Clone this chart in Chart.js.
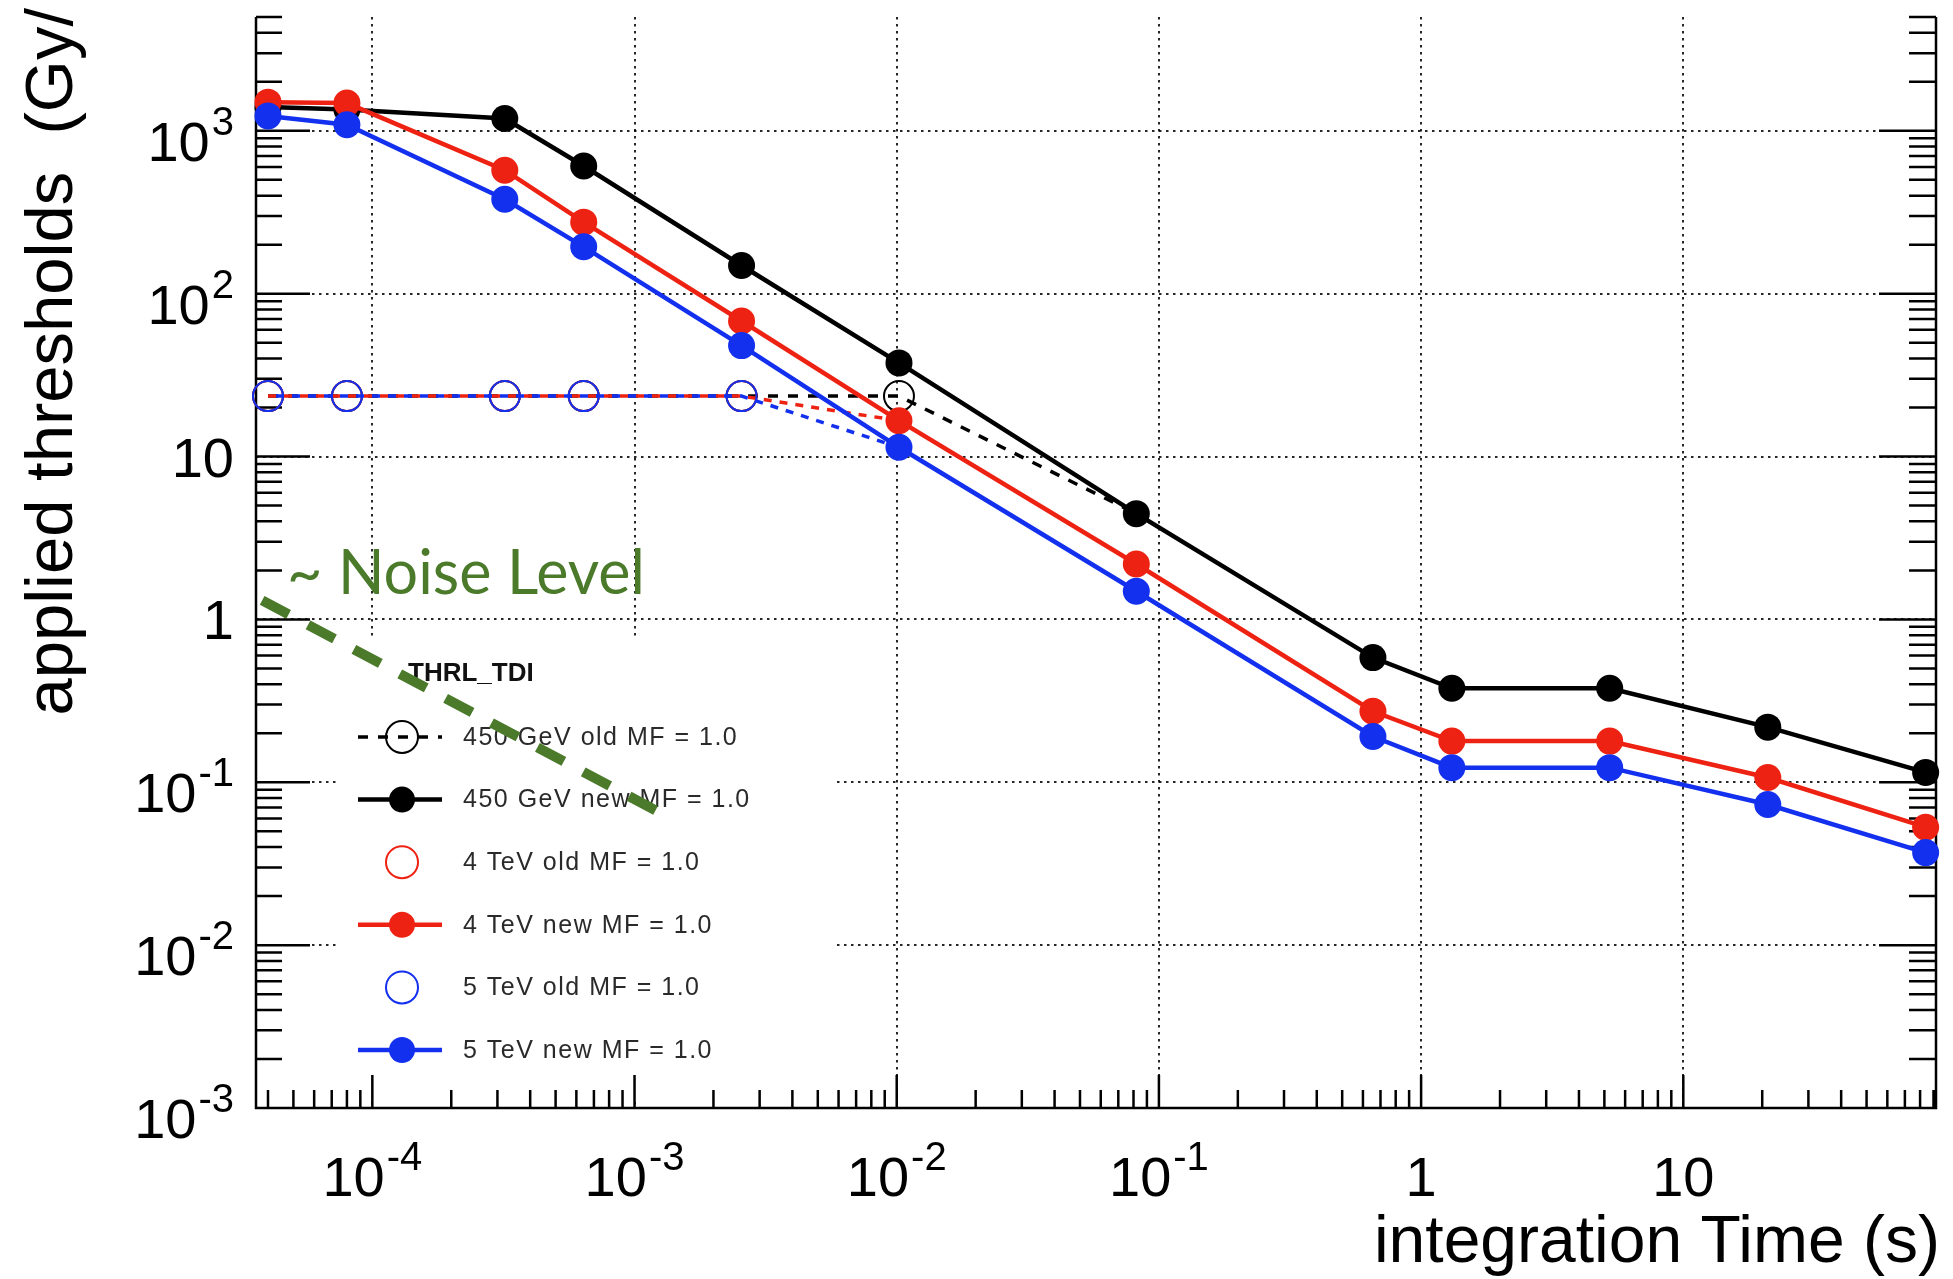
<!DOCTYPE html>
<html>
<head>
<meta charset="utf-8">
<title>THRL_TDI applied thresholds</title>
<script src="https://cdn.jsdelivr.net/npm/chart.js@4.4.1/dist/chart.umd.min.js"></script>
<style>
  html, body { margin: 0; padding: 0; background: #fff; }
  #thrlChart { display: block; }
</style>
</head>
<body>
<canvas id="thrlChart" width="1953" height="1279"></canvas>
<script>
// integration times of the running sums (s)
const times = [4e-5, 8e-5, 3.2e-4, 6.4e-4, 2.56e-3, 1.02e-2, 8.2e-2, 0.655, 1.31, 5.24, 21, 84];

const gev450New = [1400, 1350, 1190, 608, 149, 37.6, 4.46, 0.583, 0.378, 0.378, 0.218, 0.115];
const tev4New = [1500, 1480, 573, 275, 68, 16.6, 2.19, 0.273, 0.179, 0.179, 0.107, 0.053];
const tev5New = [1235, 1090, 380, 194, 48, 11.4, 1.49, 0.191, 0.123, 0.123, 0.073, 0.037];

// old thresholds, only where they differ from the new ones
const gev450Old = [23.5, 23.5, 23.5, 23.5, 23.5, 23.5, 4.46];
const tev4Old = [23.5, 23.5, 23.5, 23.5, 23.5, 16.6];
const tev5Old = [23.5, 23.5, 23.5, 23.5, 23.5, 11.4];

const noiseTimes = [3.8e-5, 1.25e-3];
const noiseValues = [1.31, 0.065];

const xTicks = [1e-4, 1e-3, 1e-2, 1e-1, 1, 10];
const xTickLabels = ['10^-4', '10^-3', '10^-2', '10^-1', '1', '10'];
const yTicks = [1e-3, 1e-2, 1e-1, 1, 10, 1e2, 1e3];
const yTickLabels = ['10^-3', '10^-2', '10^-1', '1', '10', '10^2', '10^3'];

const legendTitle = 'THRL_TDI';
const seriesNames = ['450 GeV old MF = 1.0', '450 GeV new MF = 1.0', '4 TeV old MF = 1.0',
  '4 TeV new MF = 1.0', '5 TeV old MF = 1.0', '5 TeV new MF = 1.0'];

const RED = 'rgb(238, 34, 18)';
const BLUE = 'rgb(18, 48, 238)';
const BLACK = '#000';
const GREEN = 'rgb(74, 122, 42)';
const SANS = '"Liberation Sans", Arial, Helvetica, sans-serif';

const toPoints = (xs, ys) => ys.map((y, i) => ({x: xs[i], y: y}));

function newSeries(label, values, color) {
  return {
    label: label, data: toPoints(times, values),
    borderColor: color, borderWidth: 4.5,
    pointRadius: 13.5, pointBackgroundColor: color, pointBorderWidth: 0,
    pointStyle: 'circle', clip: false
  };
}

function oldSeries(label, values, color, dash, offset) {
  return {
    label: label, data: toPoints(times, values),
    borderColor: color, borderWidth: 3.5, borderDash: dash, borderDashOffset: offset,
    // the last point joins the new curve, no open marker there
    pointRadius: values.map((v, i) => i === values.length - 1 ? 0 : 15),
    pointBackgroundColor: 'rgba(0,0,0,0)', pointBorderColor: color,
    pointBorderWidth: 2, clip: false
  };
}

// first dataset is drawn on top
const datasets = [
  {
    label: 'noise', data: toPoints(noiseTimes, noiseValues),
    borderColor: GREEN, borderWidth: 10, borderDash: [30, 22], borderCapStyle: 'butt',
    pointRadius: 0
  },
  newSeries(seriesNames[5], tev5New, BLUE),
  newSeries(seriesNames[3], tev4New, RED),
  newSeries(seriesNames[1], gev450New, BLACK),
  oldSeries(seriesNames[4], tev5Old, BLUE, [8, 8], 8),
  oldSeries(seriesNames[2], tev4Old, RED, [8, 8], 0),
  oldSeries(seriesNames[0], gev450Old, BLACK, [10, 10], 0)
];

// legend rows: dataset index and whether the line is shown
const legendRows = [[6, true], [3, true], [5, false], [2, true], [4, false], [1, true]];

function drawPower(ctx, label, x, y, align) {
  const parts = label.split('^');
  ctx.textAlign = 'left';
  ctx.textBaseline = 'alphabetic';
  ctx.font = '56px ' + SANS;
  const bw = ctx.measureText(parts[0]).width;
  ctx.font = '40px ' + SANS;
  const sw = parts[1] ? ctx.measureText(parts[1]).width + 2 : 0;
  const left = align === 'right' ? x - bw - sw : x - (bw + sw) / 2;
  ctx.font = '56px ' + SANS;
  ctx.fillText(parts[0], left, y);
  if (parts[1]) {
    ctx.font = '40px ' + SANS;
    ctx.fillText(parts[1], left + bw + 2, y - 26);
  }
}

const rootFrame = {
  id: 'rootFrame',
  beforeDatasetsDraw(chart) {
    const ctx = chart.ctx;
    const a = chart.chartArea;
    const xs = chart.scales.x, ys = chart.scales.y;
    ctx.save();

    // legend box hides the grid
    ctx.fillStyle = '#fff';
    ctx.fillRect(336, 636, 500, 462);

    ctx.strokeStyle = '#000';
    ctx.lineWidth = 2.5;
    ctx.beginPath();
    for (let d = -4; d <= 4; d++) {
      for (let m = 1; m <= 9; m++) {
        const v = m * Math.pow(10, d);
        if (v < ys.min || v > ys.max) continue;
        const py = ys.getPixelForValue(v);
        ctx.moveTo(a.left, py); ctx.lineTo(a.left + (m === 1 ? 54 : 26), py);
        ctx.moveTo(a.right, py); ctx.lineTo(a.right - (m === 1 ? 57 : 27), py);
      }
    }
    for (let d = -6; d <= 2; d++) {
      for (let m = 1; m <= 9; m++) {
        const v = m * Math.pow(10, d);
        if (v < xs.min || v > xs.max) continue;
        const px = xs.getPixelForValue(v);
        ctx.moveTo(px, a.bottom); ctx.lineTo(px, a.bottom - (m === 1 ? 33 : 18));
      }
    }
    ctx.moveTo(a.left, a.top); ctx.lineTo(a.left, a.bottom); ctx.lineTo(a.right, a.bottom); ctx.lineTo(a.right, a.top);
    ctx.stroke();

    // legend
    ctx.fillStyle = '#111';
    ctx.font = 'bold 26px ' + SANS;
    ctx.textBaseline = 'middle';
    ctx.textAlign = 'left';
    ctx.fillText(legendTitle, 408, 674);
    legendRows.forEach((row, i) => {
      const ds = chart.data.datasets[row[0]];
      const y = 737 + i * 62.6;
      const open = ds.pointBackgroundColor === 'rgba(0,0,0,0)';
      if (row[1]) {
        ctx.beginPath();
        ctx.strokeStyle = ds.borderColor;
        ctx.lineWidth = ds.borderWidth;
        ctx.setLineDash(ds.borderDash || []);
        ctx.moveTo(358, y); ctx.lineTo(442, y);
        ctx.stroke();
        ctx.setLineDash([]);
      }
      ctx.beginPath();
      ctx.arc(402, y, open ? 16 : 13, 0, Math.PI * 2);
      if (open) {
        ctx.strokeStyle = ds.pointBorderColor;
        ctx.lineWidth = 2;
        ctx.stroke();
      } else {
        ctx.fillStyle = ds.pointBackgroundColor;
        ctx.fill();
      }
      ctx.fillStyle = '#2a2a2a';
      ctx.font = '25px ' + SANS;
      ctx.letterSpacing = '1.5px';
      ctx.fillText(seriesNames[i], 463, y + 1);
      ctx.letterSpacing = '0px';
    });
    ctx.restore();
  },
  afterDraw(chart) {
    const ctx = chart.ctx;
    const xs = chart.scales.x, ys = chart.scales.y;
    ctx.save();
    ctx.fillStyle = '#000';
    xTicks.forEach((v, i) => drawPower(ctx, xTickLabels[i], xs.getPixelForValue(v), 1196, 'center'));
    yTicks.forEach((v, i) => {
      const py = ys.getPixelForValue(v);
      const sup = yTickLabels[i].indexOf('^') >= 0;
      drawPower(ctx, yTickLabels[i], 234, py + (sup ? 30 : 20), 'right');
    });

    ctx.font = '66px ' + SANS;
    ctx.textBaseline = 'alphabetic';
    ctx.textAlign = 'right';
    ctx.fillText('integration Time (s)', 1940, 1262);

    ctx.font = '67px ' + SANS;
    ctx.translate(72, 8);
    ctx.rotate(-Math.PI / 2);
    ctx.fillText('applied thresholds  (Gy/', 0, 0);
    ctx.restore();

    ctx.save();
    ctx.fillStyle = GREEN;
    ctx.font = '61px Lato, "Open Sans", sans-serif';
    ctx.textAlign = 'left';
    ctx.textBaseline = 'alphabetic';
    ctx.fillText('~ Noise Level', 287, 594);
    ctx.restore();
  }
};

const ctx = document.getElementById('thrlChart').getContext('2d');
const chart = new Chart(ctx, {
  type: 'line',
  data: { datasets: datasets },
  options: {
    responsive: false,
    animation: false,
    events: [],
    layout: { padding: { top: 14, right: 8, left: 0, bottom: 0 } },
    scales: {
      x: {
        type: 'logarithmic', min: 3.6e-5, max: 92,
        afterBuildTicks: s => { s.ticks = xTicks.map(v => ({value: v})); },
        afterFit: s => { s.height = 171; },
        ticks: { display: false },
        grid: { color: 'rgba(0,0,0,0.85)', lineWidth: 2, drawTicks: false },
        border: { display: false, dash: [2.5, 4.5] }
      },
      y: {
        type: 'logarithmic', min: 1e-3, max: 5000,
        afterBuildTicks: s => { s.ticks = yTicks.map(v => ({value: v})); },
        afterFit: s => { s.width = 256; },
        ticks: { display: false },
        grid: { color: 'rgba(0,0,0,0.85)', lineWidth: 2, drawTicks: false },
        border: { display: false, dash: [2.5, 4.5] }
      }
    },
    plugins: {
      legend: { display: false },
      tooltip: { enabled: false }
    }
  },
  plugins: [rootFrame]
});
</script>
</body>
</html>
